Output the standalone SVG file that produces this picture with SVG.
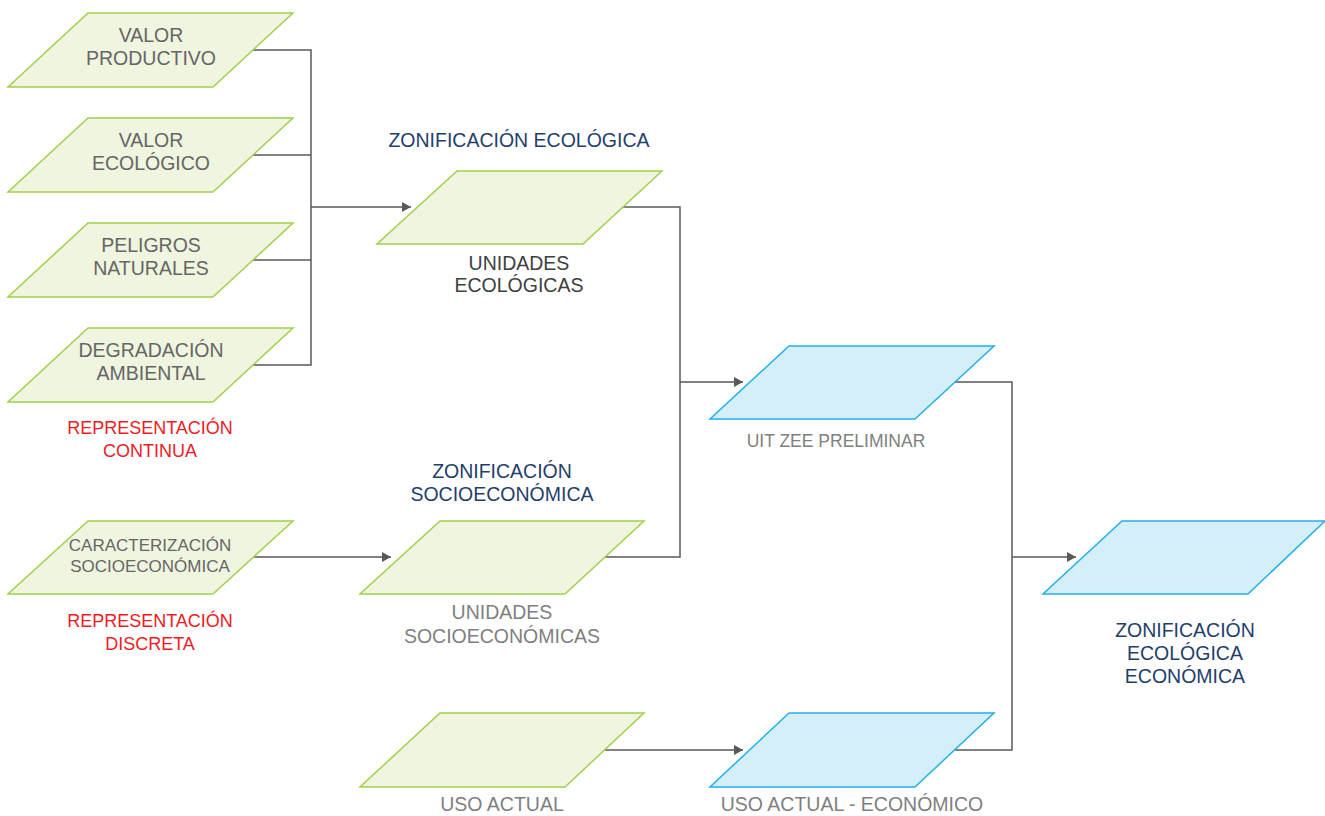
<svg xmlns="http://www.w3.org/2000/svg" width="1325" height="816" viewBox="0 0 1325 816">
<style>
.g{fill:#eff5df;stroke:#a3cf4a;stroke-width:1.5}
.b{fill:#d4eefa;stroke:#22b0ea;stroke-width:1.5}
text{font-family:"Liberation Sans",Arial,sans-serif;font-size:19.5px;text-anchor:middle}
.n{fill:#666666}
.d{fill:#404040}
.l{fill:#7f7f7f}
.t{fill:#1f3f6b}
.r{fill:#ee1c25;font-size:18px}
.c{fill:none;stroke:#595959;stroke-width:1.5}
</style>
<defs>
<marker id="ah" markerWidth="10" markerHeight="10" refX="9" refY="5" orient="auto" markerUnits="userSpaceOnUse">
<path d="M0,0 L9,5 L0,10 Z" fill="#595959"/>
</marker>
</defs>
<g id="connectors">
<polyline class="c" points="253,50 311,50 311,365 253,365"/>
<line class="c" x1="253" y1="155" x2="311" y2="155"/>
<line class="c" x1="253" y1="260" x2="311" y2="260"/>
<line class="c" x1="311" y1="207" x2="411" y2="207" marker-end="url(#ah)"/>
<line class="c" x1="253" y1="557" x2="391" y2="557" marker-end="url(#ah)"/>
<polyline class="c" points="622,207 680,207 680,557 605,557"/>
<line class="c" x1="680" y1="382" x2="743" y2="382" marker-end="url(#ah)"/>
<line class="c" x1="605" y1="750" x2="743" y2="750" marker-end="url(#ah)"/>
<polyline class="c" points="955,382 1012,382 1012,750 955,750"/>
<line class="c" x1="1012" y1="557" x2="1076" y2="557" marker-end="url(#ah)"/>
</g>
<g id="valor-productivo">
<polygon class="g" points="88,13 293,13 213,87 8,87"/>
<text class="n" x="151" y="42">VALOR</text>
<text class="n" x="151" y="65">PRODUCTIVO</text>
</g>
<g id="valor-ecologico">
<polygon class="g" points="88,118 293,118 213,192 8,192"/>
<text class="n" x="151" y="147">VALOR</text>
<text class="n" x="151" y="170">ECOLÓGICO</text>
</g>
<g id="peligros-naturales">
<polygon class="g" points="88,223 293,223 213,297 8,297"/>
<text class="n" x="151" y="252">PELIGROS</text>
<text class="n" x="151" y="275">NATURALES</text>
</g>
<g id="degradacion-ambiental">
<polygon class="g" points="88,328 293,328 213,402 8,402"/>
<text class="n" x="151" y="357">DEGRADACIÓN</text>
<text class="n" x="151" y="380">AMBIENTAL</text>
</g>
<g id="representacion-continua">
<text class="r" x="150" y="434">REPRESENTACIÓN</text>
<text class="r" x="150" y="457">CONTINUA</text>
</g>
<g id="caracterizacion">
<polygon class="g" points="88,521 293,521 213,594 8,594"/>
<text class="n" x="150" y="551" style="font-size:17px">CARACTERIZACIÓN</text>
<text class="n" x="150" y="572" style="font-size:17px">SOCIOECONÓMICA</text>
</g>
<g id="representacion-discreta">
<text class="r" x="150" y="627">REPRESENTACIÓN</text>
<text class="r" x="150" y="650">DISCRETA</text>
</g>
<g id="zonificacion-ecologica">
<text class="t" x="519" y="147">ZONIFICACIÓN ECOLÓGICA</text>
<polygon class="g" points="457,171 662,171 583,244 377,244"/>
<text class="d" x="519" y="270">UNIDADES</text>
<text class="d" x="519" y="292">ECOLÓGICAS</text>
</g>
<g id="zonificacion-socioeconomica">
<text class="t" x="502" y="478">ZONIFICACIÓN</text>
<text class="t" x="502" y="501">SOCIOECONÓMICA</text>
<polygon class="g" points="440,521 644,521 565,594 360,594"/>
<text class="l" x="502" y="619">UNIDADES</text>
<text class="l" x="502" y="643">SOCIOECONÓMICAS</text>
</g>
<g id="uit-zee-preliminar">
<polygon class="b" points="789,346 994,346 915,419 710,419"/>
<text class="l" x="836" y="447" style="font-size:17.5px">UIT ZEE PRELIMINAR</text>
</g>
<g id="uso-actual">
<polygon class="g" points="440,713 644,713 565,787 360,787"/>
<text class="l" x="502" y="811">USO ACTUAL</text>
</g>
<g id="uso-actual-economico">
<polygon class="b" points="789,713 994,713 915,787 710,787"/>
<text class="l" x="852" y="811">USO ACTUAL - ECONÓMICO</text>
</g>
<g id="zee">
<polygon class="b" points="1122,521 1325,521 1248,594 1043,594"/>
<text class="t" x="1185" y="637">ZONIFICACIÓN</text>
<text class="t" x="1185" y="660">ECOLÓGICA</text>
<text class="t" x="1185" y="683">ECONÓMICA</text>
</g>
</svg>
